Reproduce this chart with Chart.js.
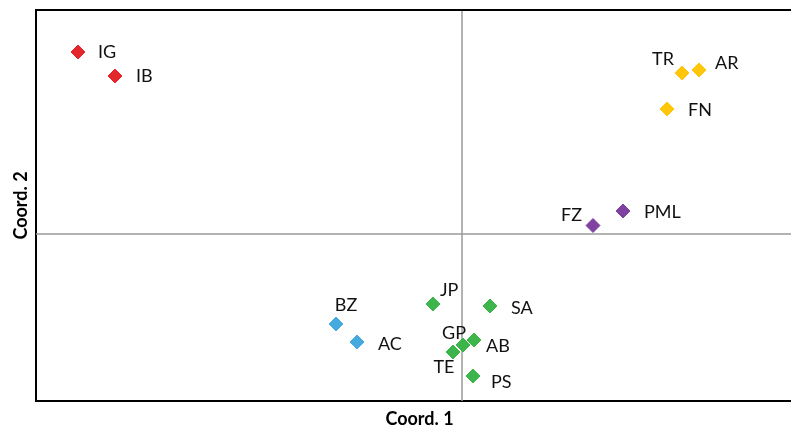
<!DOCTYPE html>
<html>
<head>
<meta charset="utf-8">
<script src="https://cdn.jsdelivr.net/npm/chart.js@4.4.0/dist/chart.umd.min.js"></script>
<style>
  html, body { margin: 0; padding: 0; background: #fff; overflow: hidden; }
  #wrap { width: 791px; height: 429px; }
</style>
</head>
<body>
<div id="wrap"><canvas id="c" width="791" height="429"></canvas></div>
<script>
// ---- data ----
const redNames = ['IG', 'IB'];
const redX = [-3.84, -3.47];
const redY = [1.82, 1.58];

const yellowNames = ['TR', 'AR', 'FN'];
const yellowX = [2.20, 2.37, 2.05];
const yellowY = [1.61, 1.64, 1.25];

const purpleNames = ['FZ', 'PML'];
const purpleX = [1.31, 1.61];
const purpleY = [0.085, 0.23];

const blueNames = ['BZ', 'AC'];
const blueX = [-1.26, -1.05];
const blueY = [-0.90, -1.08];

const greenNames = ['JP', 'SA', 'GP', 'AB', 'TE', 'PS'];
const greenX = [-0.29, 0.28, 0.01, 0.12, -0.09, 0.11];
const greenY = [-0.70, -0.72, -1.11, -1.06, -1.18, -1.42];

const xTitle = 'Coord. 1';
const yTitle = 'Coord. 2';

// label placement (pixel offsets from marker, alignment)
const labelPlacement = {
  IG: [20, 0, 'left'], IB: [21, 0, 'left'],
  TR: [-8, -14, 'right'], AR: [16, -7, 'left'], FN: [21, 1, 'left'],
  PML: [21, 1, 'left'], FZ: [-11, -10, 'right'],
  JP: [7, -14, 'left'], SA: [21, 2, 'left'],
  BZ: [10, -19, 'center'], AC: [21, 2, 'left'],
  GP: [-9, -12, 'center'], AB: [12, 6, 'left'],
  TE: [-9, 15, 'center'], PS: [18, 6, 'left']
};

function pts(xs, ys) { return xs.map((x, i) => ({ x: x, y: ys[i] })); }

function ds(names, xs, ys, color) {
  return {
    label: names.join(','),
    names: names,
    data: pts(xs, ys),
    pointStyle: 'rectRot',
    pointRadius: 7,
    pointHoverRadius: 7,
    backgroundColor: color,
    borderColor: color,
    borderWidth: 1
  };
}

const FONT = 'Lato, "Open Sans", sans-serif';
const PLOT_OVERHANG = 12; // plot area continues past the window edge

const decorPlugin = {
  id: 'decor',
  afterLayout(chart) {
    const xs = chart.scales.x;
    const target = chart.width + PLOT_OVERHANG;
    const delta = target - xs.right;
    xs.right = target;
    xs.width += delta;
    chart.chartArea.right = target;
    chart.chartArea.width += delta;
    xs.configure();
  },
  beforeDatasetsDraw(chart) {
    const { ctx, chartArea, scales } = chart;
    const x0 = scales.x.getPixelForValue(0);
    const y0 = scales.y.getPixelForValue(0);
    ctx.save();
    ctx.strokeStyle = '#9a9a9a';
    ctx.lineWidth = 1.5;
    ctx.beginPath();
    ctx.moveTo(x0, chartArea.top);
    ctx.lineTo(x0, chartArea.bottom);
    ctx.moveTo(chartArea.left, y0);
    ctx.lineTo(chartArea.right, y0);
    ctx.stroke();
    ctx.strokeStyle = '#000';
    ctx.lineWidth = 2;
    ctx.beginPath();
    ctx.moveTo(chartArea.left - 1, chartArea.top);
    ctx.lineTo(chartArea.right, chartArea.top);
    ctx.stroke();
    ctx.restore();
  },
  afterDatasetsDraw(chart) {
    const { ctx } = chart;
    ctx.save();
    ctx.font = '18px ' + FONT;
    ctx.fillStyle = '#111';
    ctx.textBaseline = 'middle';
    chart.data.datasets.forEach((d, di) => {
      const meta = chart.getDatasetMeta(di);
      meta.data.forEach((el, i) => {
        const name = d.names[i];
        const p = labelPlacement[name] || [18, 0, 'left'];
        ctx.textAlign = p[2];
        ctx.fillText(name, el.x + p[0], el.y + p[1]);
      });
    });
    ctx.restore();
  }
};

new Chart(document.getElementById('c'), {
  type: 'scatter',
  data: {
    datasets: [
      ds(redNames, redX, redY, '#E2282D'),
      ds(yellowNames, yellowX, yellowY, '#FFC60B'),
      ds(purpleNames, purpleX, purpleY, '#7F42A0'),
      ds(blueNames, blueX, blueY, '#47AADE'),
      ds(greenNames, greenX, greenY, '#3DB54A')
    ]
  },
  options: {
    responsive: false,
    animation: false,
    events: [],
    layout: { padding: { top: 10, right: 0, left: 0, bottom: 0 } },
    plugins: { legend: { display: false }, tooltip: { enabled: false } },
    scales: {
      x: {
        type: 'linear',
        min: -4.26, max: 3.41,
        ticks: { display: false },
        grid: { display: false, drawTicks: false },
        border: { display: true, color: '#000', width: 2 },
        title: {
          display: true, text: xTitle, color: '#000',
          font: { family: FONT, size: 18, weight: 'bold', lineHeight: 1.1 },
          padding: { top: 0, bottom: 0 }
        },
        afterFit(s) { s.height = 28; }
      },
      y: {
        type: 'linear',
        min: -1.67, max: 2.24,
        ticks: { display: false },
        grid: { display: false, drawTicks: false },
        border: { display: true, color: '#000', width: 2 },
        title: {
          display: true, text: yTitle, color: '#000',
          font: { family: FONT, size: 18, weight: 'bold', lineHeight: 1.1 },
          padding: { top: 11, bottom: 0 }
        },
        afterFit(s) { s.width = 36; }
      }
    }
  },
  plugins: [decorPlugin]
});
</script>
</body>
</html>
